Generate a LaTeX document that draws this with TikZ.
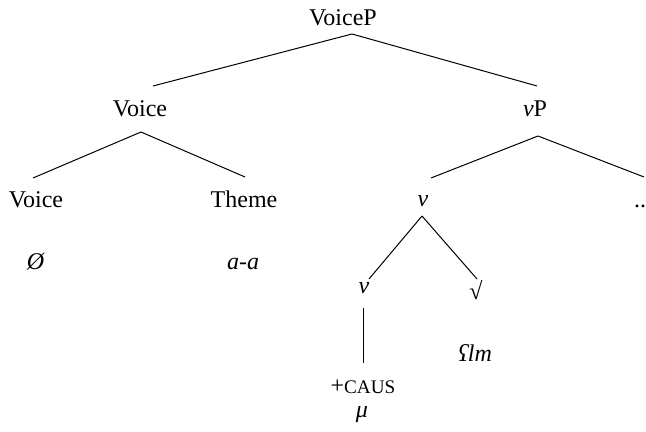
\documentclass[tikz,border=0pt]{standalone}
\usepackage{fontspec}
\setmainfont{Liberation Serif}
\begin{document}
\begin{tikzpicture}[x=0.5pt,y=-0.5pt,font=\fontsize{12}{14}\selectfont,
    lbl/.style={anchor=base,inner sep=0pt},
    br/.style={line width=0.5pt,black}]
      \useasboundingbox (0,0) rectangle (646,432);
      % labels
      \node[lbl] (VoiceP) at (343,26) {VoiceP};
      \node[lbl] (VoiceA) at (140,117) {Voice};
      \node[lbl] (vP) at (535,117) {\textit{v}P};
      \node[lbl] (VoiceB) at (36,208) {Voice};
      \node[lbl] (Theme) at (244,208) {Theme};
      \node[lbl] (vA) at (423,207) {\textit{v}};
      \node[lbl] (dots) at (640,208) {..};
      \node[lbl] (vB) at (364,293) {\textit{v}};
      \node[lbl] (root) at (476,299) {√};
      \node[lbl] (null) at (36,270) {\textit{Ø}};
      \node[lbl] (aa) at (243,270) {\textit{a-a}};
      \node[lbl] (caus) at (363,393) {+{\fontsize{9.6}{11}\selectfont CAUS}};
      \node[lbl] (mu) at (362,417) {\textit{μ}};
      \node[lbl] (lm) at (475,361) {\textit{ʕlm}};
      % branches
      \draw[br] ([shift={(9,8)}]VoiceP.base) -- ([shift={(13,-31)}]VoiceA.base);
      \draw[br] ([shift={(9,8)}]VoiceP.base) -- ([shift={(2,-31)}]vP.base);
      \draw[br] ([shift={(1,15)}]VoiceA.base) -- ([shift={(-3,-30)}]VoiceB.base);
      \draw[br] ([shift={(1,15)}]VoiceA.base) -- ([shift={(1,-31)}]Theme.base);
      \draw[br] ([shift={(3,19)}]vP.base) -- ([shift={(8,-29)}]vA.base);
      \draw[br] ([shift={(3,19)}]vP.base) -- ([shift={(4,-31)}]dots.base);
      \draw[br] ([shift={(-1,9)}]vA.base) -- ([shift={(5,-14)}]vB.base);
      \draw[br] ([shift={(-1,9)}]vA.base) -- ([shift={(1,-20)}]root.base);
      \draw[br] ([shift={(-1,15)}]vB.base) -- ([shift={(0,-30)}]caus.base);
    \end{tikzpicture}
\end{document}
